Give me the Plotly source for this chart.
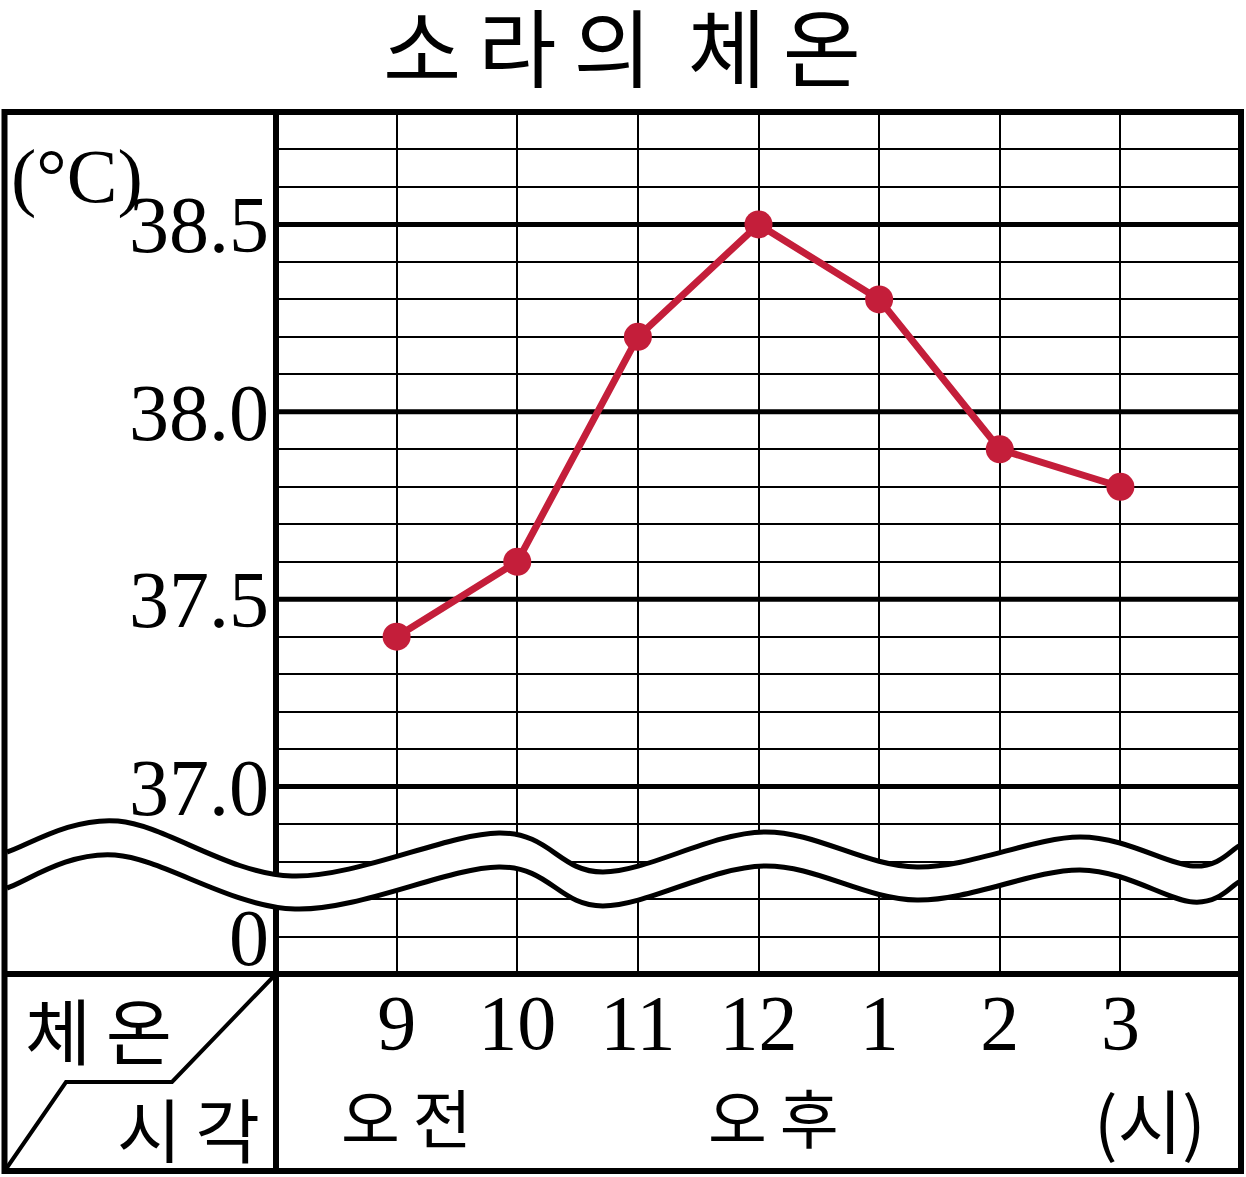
import plotly.graph_objects as go

# ---- data ----
hours = ["9", "10", "11", "12", "1", "2", "3"]
temps = [37.4, 37.6, 38.2, 38.5, 38.3, 37.9, 37.8]
y_tick_vals = [36.6, 37.0, 37.5, 38.0, 38.5]
y_tick_text = ["0", "37.0", "37.5", "38.0", "38.5"]
major_lines = [37.0, 37.5, 38.0, 38.5]
x_pos = list(range(1, len(hours) + 1))

# ---- layout geometry (pixels) ----
FW, FH = 1246, 1177
L, T, R, B = 276, 112, 1241, 974
W, H = R - L, B - T


def px(x):
    return (x - L) / W


def py(y):
    return 1 - (y - T) / H


def smooth_path(pts, start_cmd="M"):
    """Catmull-Rom -> cubic bezier path through pixel points (returned in paper coords)."""
    s = f"{start_cmd} {px(pts[0][0]):.5f},{py(pts[0][1]):.5f}"
    n = len(pts)
    for i in range(n - 1):
        p0 = pts[i - 1] if i > 0 else pts[i]
        p1 = pts[i]
        p2 = pts[i + 1]
        p3 = pts[i + 2] if i + 2 < n else pts[i + 1]
        c1 = (p1[0] + (p2[0] - p0[0]) / 6, p1[1] + (p2[1] - p0[1]) / 6)
        c2 = (p2[0] - (p3[0] - p1[0]) / 6, p2[1] - (p3[1] - p1[1]) / 6)
        s += (f" C {px(c1[0]):.5f},{py(c1[1]):.5f} {px(c2[0]):.5f},{py(c2[1]):.5f}"
              f" {px(p2[0]):.5f},{py(p2[1]):.5f}")
    return s


upper = [(7, 852), (118, 821), (292, 876), (499, 833), (603, 872), (764, 832),
         (917, 867), (1080, 837), (1193, 866), (1239, 846)]
lower = [(7, 888), (115, 855), (295, 909), (499, 867), (603, 906), (764, 866),
         (917, 900), (1080, 870), (1193, 902), (1239, 882)]

band = smooth_path(upper) + " " + smooth_path(lower[::-1], "L") + " Z"

RED = "#C41E3A"
SERIF = "Liberation Serif"
KR = "Noto Sans CJK KR"
TS = "\u2009"  # thin space for letter spacing

fig = go.Figure()
fig.add_trace(go.Scatter(
    x=x_pos, y=temps, mode="lines+markers",
    line=dict(color=RED, width=7),
    marker=dict(color=RED, size=28),
    showlegend=False, hoverinfo="skip", cliponaxis=False,
))

shapes = []
# thick major grid lines
for v in major_lines:
    shapes.append(dict(type="line", xref="paper", yref="y", x0=0, x1=1, y0=v, y1=v,
                       line=dict(color="black", width=5), layer="below"))
# left column divider & bottom row divider
shapes.append(dict(type="line", xref="paper", yref="paper", x0=px(L), x1=px(L),
                   y0=py(T), y1=py(1171), line=dict(color="black", width=6), layer="above"))
shapes.append(dict(type="line", xref="paper", yref="paper", x0=px(4.5), x1=px(R),
                   y0=py(B), y1=py(B), line=dict(color="black", width=6), layer="above"))
# wave break band
shapes.append(dict(type="path", xref="paper", yref="paper", path=band,
                   fillcolor="white", line=dict(width=0), layer="above"))
shapes.append(dict(type="path", xref="paper", yref="paper", path=smooth_path(upper),
                   line=dict(color="black", width=5), layer="above"))
shapes.append(dict(type="path", xref="paper", yref="paper", path=smooth_path(lower),
                   line=dict(color="black", width=5), layer="above"))
# outer frame
shapes.append(dict(type="rect", xref="paper", yref="paper", x0=px(4.5), x1=px(R),
                   y0=py(T), y1=py(1171), line=dict(color="black", width=6),
                   fillcolor="rgba(0,0,0,0)", layer="above"))
# diagonal divider in bottom-left cell
diag = [(274, 976), (172, 1082), (66, 1082), (6, 1169)]
dpath = "M " + " L ".join(f"{px(a):.5f},{py(b):.5f}" for a, b in diag)
shapes.append(dict(type="path", xref="paper", yref="paper", path=dpath,
                   line=dict(color="black", width=4), layer="above"))

annotations = [
    dict(text=f"소{TS}라{TS}의 {TS}체{TS}온", x=px(622), y=py(43),
         font=dict(family=KR, size=85, color="black")),
    dict(text="(°C)", x=px(77), y=py(176), font=dict(family=SERIF, size=76, color="black")),
    dict(text=f"체{TS}온", x=px(98), y=py(1027), font=dict(family=KR, size=72, color="black")),
    dict(text=f"시{TS}각", x=px(188), y=py(1127), font=dict(family=KR, size=70, color="black")),
    dict(text=f"오{TS}전", x=px(406), y=py(1115), font=dict(family=KR, size=64, color="black")),
    dict(text=f"오{TS}후", x=px(773), y=py(1115), font=dict(family=KR, size=64, color="black")),
    dict(text="(시)", x=px(1150), y=py(1118), font=dict(family=KR, size=70, color="black")),
]
for a in annotations:
    a.update(xref="paper", yref="paper", showarrow=False, xanchor="center", yanchor="middle")

fig.update_layout(
    width=FW, height=FH,
    margin=dict(l=L, r=FW - R, t=T, b=FH - B, pad=0),
    paper_bgcolor="white", plot_bgcolor="white",
    shapes=shapes, annotations=annotations,
    xaxis=dict(range=[0, 8], tickvals=x_pos, ticktext=hours,
               showgrid=True, gridcolor="black", gridwidth=2,
               zeroline=False, showline=False, ticks="", ticklabelstandoff=-4,
               tickfont=dict(family=SERIF, size=78, color="black"), fixedrange=True),
    yaxis=dict(range=[36.5, 38.8], tickvals=y_tick_vals, ticktext=y_tick_text,
               showgrid=True, gridcolor="black", gridwidth=2,
               minor=dict(tickmode="linear", tick0=36.5, dtick=0.1, showgrid=True,
                          gridcolor="black", gridwidth=2, ticks=""),
               zeroline=False, showline=False, ticks="", ticklabelstandoff=6,
               tickfont=dict(family=SERIF, size=80, color="black"), fixedrange=True),
)

fig.write_html("out.html", post_script="document.body.style.margin='0';",
               config={"displayModeBar": False})
